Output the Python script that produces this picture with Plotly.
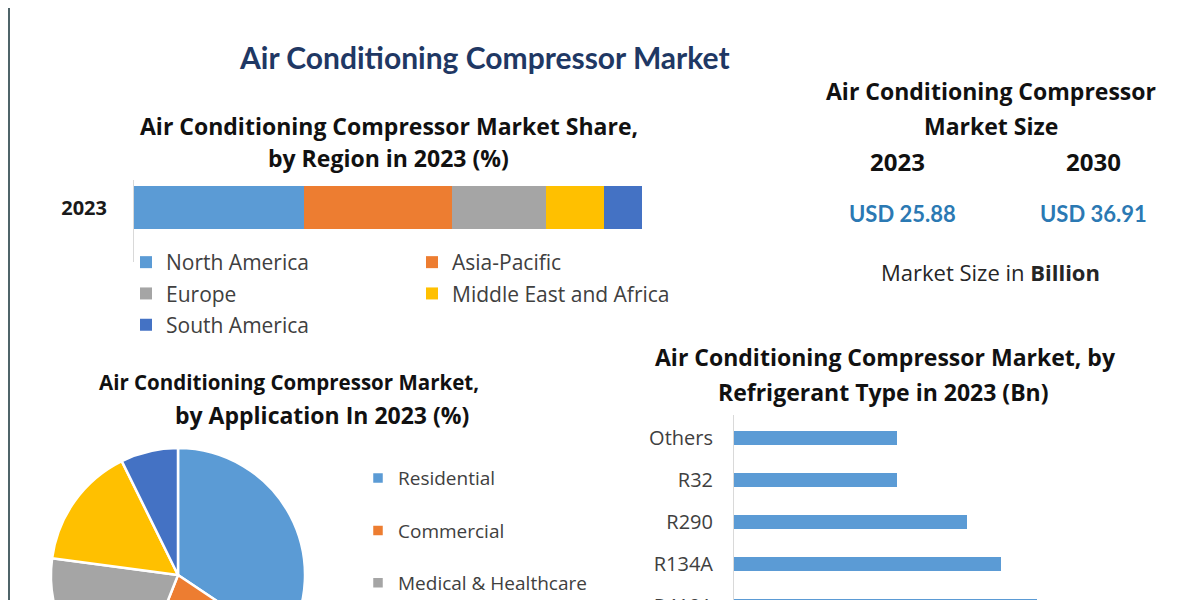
import plotly.graph_objects as go

W, H = 1200, 760
OFF = 8  # page offset of the figure (body margin)

# ---------------- data ----------------
region_year = ["2023"]
regions = ["North America", "Asia-Pacific", "Europe", "Middle East and Africa", "South America"]
region_share = [33.5, 29.1, 18.5, 11.4, 7.5]
region_colors = ["#5b9bd5", "#ed7d31", "#a5a5a5", "#ffc000", "#4472c4"]

applications = ["Residential", "Commercial", "Medical & Healthcare", "Industrial", "Automotive"]
application_share = [34.4, 21.6, 21.1, 15.6, 7.3]
application_colors = ["#5b9bd5", "#ed7d31", "#a5a5a5", "#ffc000", "#4472c4"]

refrigerants = ["R410A", "R134A", "R290", "R32", "Others"]
refrigerant_bn = [6.94, 6.12, 5.34, 3.74, 3.74]

size_years = ["2023", "2030"]
size_values = ["USD 25.88", "USD 36.91"]


def px(x):
    return (x - OFF) / W


def py(y):
    return 1 - (y - OFF) / H


fig = go.Figure()

# ---------------- stacked region bar ----------------
legend_for = ["legend", "legend3", "legend", "legend3", "legend"]
for name, val, col, lg in zip(regions, region_share, region_colors, legend_for):
    fig.add_trace(go.Bar(
        y=region_year, x=[val], name=name, orientation="h",
        marker=dict(color=col, line=dict(width=0)), width=0.8,
        xaxis="x", yaxis="y", legend=lg, legendgroup=name,
        hoverinfo="name+x",
    ))

# ---------------- pie ----------------
fig.add_trace(go.Pie(
    labels=[a + "<br> " for a in applications], values=application_share,
    marker=dict(colors=application_colors, line=dict(color="#ffffff", width=2.5)),
    sort=False, direction="clockwise", rotation=0, textinfo="none",
    domain=dict(x=[px(51), px(305)], y=[py(702), py(448)]),
    legend="legend2", hoverinfo="label+value",
))

# ---------------- refrigerant bars ----------------
fig.add_trace(go.Bar(
    y=refrigerants, x=refrigerant_bn, orientation="h",
    marker=dict(color="#5b9bd5", line=dict(width=0)), width=0.34,
    xaxis="x2", yaxis="y2", showlegend=False,
))

unit_px = 1 / 0.02292  # pixels per Bn

legend_font = dict(family="Open Sans", size=21, color="#404040")

fig.update_layout(
    width=W, height=H, autosize=False,
    margin=dict(l=0, r=0, t=0, b=0),
    paper_bgcolor="#ffffff", plot_bgcolor="rgba(0,0,0,0)",
    barmode="stack",
    font=dict(family="Open Sans", color="#404040"),
    xaxis=dict(domain=[px(134), px(642)], range=[0, 100], visible=False, fixedrange=True),
    yaxis=dict(domain=[py(262), py(180)], type="category", range=[-1.014, 0.512],
               showline=True, linecolor="#d9d9d9", linewidth=1, ticks="",
               showgrid=False, zeroline=False, ticklabelstandoff=22,
               tickfont=dict(family="Open Sans", size=20, color="#1a1a1a", weight=700)),
    xaxis2=dict(domain=[px(734), px(1150)], range=[0, (1150 - 734) / unit_px],
                visible=False, anchor="y2"),
    yaxis2=dict(domain=[py(700), py(415)], type="category", categoryorder="array",
                categoryarray=refrigerants, range=[-2.238, 4.548], anchor="x2",
                showline=True, linecolor="#d9d9d9", linewidth=1, ticks="",
                showgrid=False, zeroline=False, ticklabelstandoff=16,
                tickfont=dict(family="Open Sans", size=20, color="#404040")),
    legend=dict(x=px(166 - 40), y=py(242), xanchor="left", yanchor="top",
                bgcolor="rgba(0,0,0,0)", font=legend_font,
                traceorder="grouped", tracegroupgap=1),
    legend3=dict(x=px(452 - 40), y=py(242), xanchor="left", yanchor="top",
                 bgcolor="rgba(0,0,0,0)", font=legend_font,
                 traceorder="grouped", tracegroupgap=1),
    legend2=dict(x=px(398 - 40), y=py(459.2), xanchor="left", yanchor="top", valign="top",
                 bgcolor="rgba(0,0,0,0)", font=dict(family="Open Sans", size=19, color="#404040")),
    showlegend=True,
)

# ---------------- texts ----------------
def note(text, x, y, size, color="#111111", family="Open Sans"):
    fig.add_annotation(text=text, x=px(x), y=py(y), xref="paper", yref="paper",
                       xanchor="center", yanchor="middle", showarrow=False,
                       font=dict(family=family, size=size, color=color))


note("<b>Air Conditioning Compressor Market</b>", 484, 57, 30, "#1f3864", "Lato")
note("<b>Air Conditioning Compressor Market Share,</b>", 389, 126, 23)
note("<b>by Region in 2023 (%)</b>", 388, 158, 23)
note("<b>Air Conditioning Compressor</b>", 991, 91, 23)
note("<b>Market Size</b>", 991, 126, 23)
note("<b>" + size_years[0] + "</b>", 897, 161, 24)
note("<b>" + size_years[1] + "</b>", 1093, 161, 24)
note("<b>" + size_values[0] + "</b>", 902, 213, 22, "#2b79b3", "Lato")
note("<b>" + size_values[1] + "</b>", 1093, 213, 22, "#2b79b3", "Lato")
note("Market Size in <b>Billion</b>", 990, 272, 22, "#262626")
note("<b>Air Conditioning Compressor Market,</b>", 289, 382, 20.5)
note("<b>by Application In 2023 (%)</b>", 322, 415, 23)
note("<b>Air Conditioning Compressor Market, by</b>", 885, 357, 23)
note("<b>Refrigerant Type in 2023 (Bn)</b>", 883, 392, 23)

# frame lines
for xx in (px(9), px(1194)):
    fig.add_shape(type="line", xref="paper", yref="paper", x0=xx, x1=xx, y0=0, y1=1,
                  line=dict(color="#4f6469", width=2))

fig.write_html("out.html")
